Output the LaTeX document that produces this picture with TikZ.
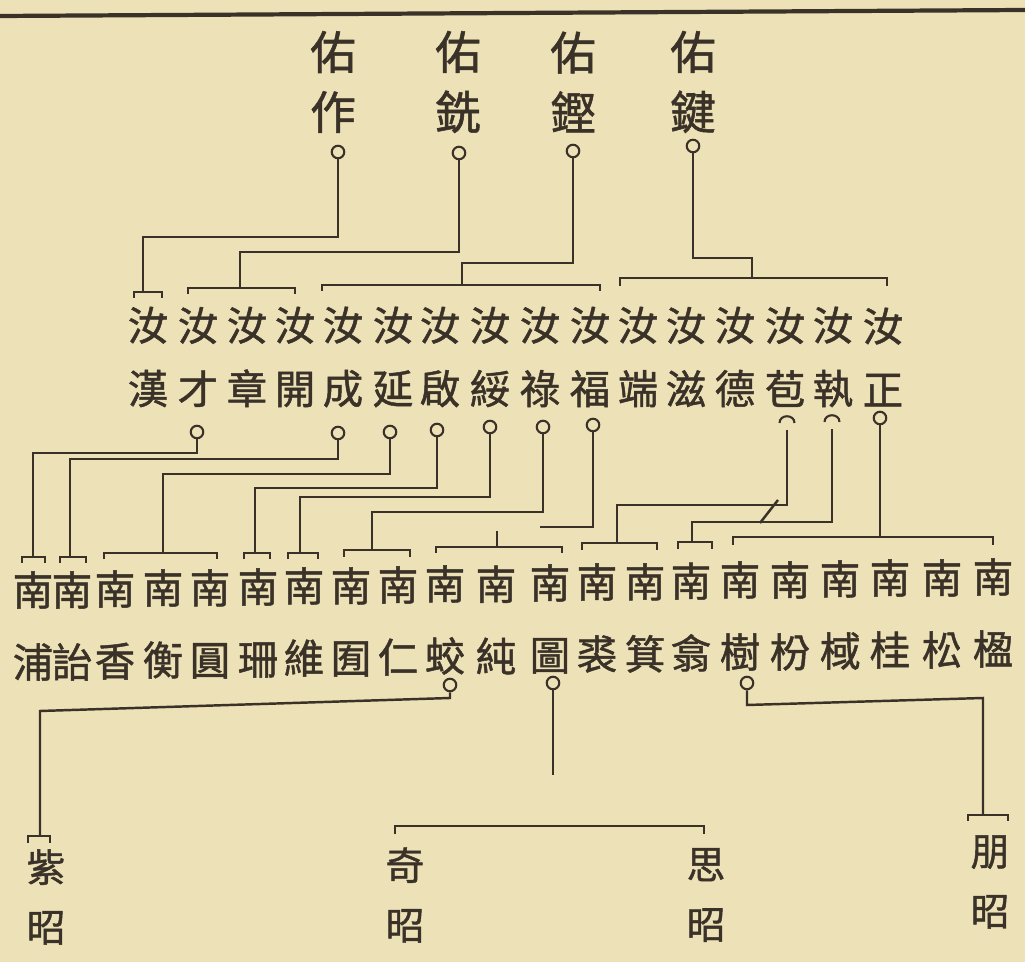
\documentclass[tikz,border=0pt]{standalone}
\usepackage{fontspec}
\newfontfamily\cjk{Noto Sans CJK TC}[FakeBold=1.2]
\definecolor{paper}{RGB}{237,225,183}
\definecolor{ink}{RGB}{58,50,40}
\begin{document}
\begin{tikzpicture}[x=0.02cm,y=-0.02cm,color=ink,line width=1.4pt,
  every node/.style={text=ink,align=center,inner sep=0pt},
  gen1/.style={font=\cjk\fontsize{26}{34.1}\selectfont},
  gen2/.style={font=\cjk\fontsize{23}{36}\selectfont},
  gen3/.style={font=\cjk\fontsize{23}{41}\selectfont},
  gen4/.style={font=\cjk\fontsize{22}{34.1}\selectfont},
  ring/.style={circle,draw=ink,line width=1.2pt,minimum size=0.25cm},
  halfring/.style={circle,minimum size=0.25cm}]
\fill[paper] (0,0) rectangle (1025,962);
\useasboundingbox (0,0) rectangle (1025,962);
\draw[line width=2.4pt] (0,16) -- (1025,10);
% Generation 1
\node[gen1] (zuo) at (333,82) {佑\\作};
\node[gen1] (xian) at (458,82) {佑\\銑};
\node[gen1] (keng) at (573,82) {佑\\鏗};
\node[gen1] (jian) at (693,82) {佑\\鍵};
\node[ring] (oZuo) at (338,152) {};
\node[ring] (oXian) at (459,153) {};
\node[ring] (oKeng) at (573,151) {};
\node[ring] (oJian) at (693,146) {};
% Generation 2
\node[gen2] (han) at (148,357) {汝\\漢};
\node[gen2] (cai) at (198,357) {汝\\才};
\node[gen2] (zhang) at (247,357) {汝\\章};
\node[gen2] (kai) at (295,357) {汝\\開};
\node[gen2] (cheng) at (343,357) {汝\\成};
\node[gen2] (yan) at (393,357) {汝\\延};
\node[gen2] (qi) at (440,357) {汝\\啟};
\node[gen2] (sui) at (490,357) {汝\\綏};
\node[gen2] (lu) at (540,357) {汝\\祿};
\node[gen2] (fu) at (590,357) {汝\\福};
\node[gen2] (duan) at (638,357) {汝\\端};
\node[gen2] (zi) at (686,357) {汝\\滋};
\node[gen2] (de) at (735,357) {汝\\德};
\node[gen2] (bao) at (785,357) {汝\\苞};
\node[gen2] (zhi) at (833,357) {汝\\執};
\node[gen2] (zheng) at (883,357) {汝\\正};
\node[ring] (oCai) at (197,432) {};
\node[ring] (oCheng) at (338,433) {};
\node[ring] (oYan) at (390,432) {};
\node[ring] (oQi) at (437,430) {};
\node[ring] (oSui) at (490,427) {};
\node[ring] (oLu) at (543,427) {};
\node[ring] (oFu) at (593,425) {};
\node[halfring] (oBao) at (787,423) {};
\node[halfring] (oZhi) at (832,422) {};
\node[ring] (oZheng) at (880,418) {};
\draw[line width=1.2pt] (oBao.west) .. controls +(0,-9) and +(0,-9) .. (oBao.east);
\draw[line width=1.2pt] (oZhi.west) .. controls +(0,-9) and +(0,-9) .. (oZhi.east);
% Generation 3
\node[gen3] (pu) at (33,626) {南\\浦};
\node[gen3] (yi) at (72,626) {南\\詒};
\node[gen3] (xiang) at (115,625) {南\\香};
\node[gen3] (heng) at (163,624) {南\\衡};
\node[gen3] (yuan) at (210,624) {南\\圓};
\node[gen3] (shan) at (258,623) {南\\珊};
\node[gen3] (wei) at (304,622) {南\\維};
\node[gen3] (you) at (351,622) {南\\囿};
\node[gen3] (ren) at (398,621) {南\\仁};
\node[gen3] (jiao) at (445,620) {南\\蛟};
\node[gen3] (chun) at (496,620) {南\\純};
\node[gen3] (tu) at (550,619) {南\\圖};
\node[gen3] (qiu) at (597,618) {南\\裘};
\node[gen3] (ji) at (645,618) {南\\箕};
\node[gen3] (xi) at (691,617) {南\\翕};
\node[gen3] (shu) at (740,616) {南\\樹};
\node[gen3] (fen) at (790,616) {南\\枌};
\node[gen3] (yu) at (840,615) {南\\棫};
\node[gen3] (gui) at (890,614) {南\\桂};
\node[gen3] (song) at (942,614) {南\\松};
\node[gen3] (ying) at (993,613) {南\\楹};
\node[ring] (oJiao) at (450,685) {};
\node[ring] (oTu) at (553,683) {};
\node[ring] (oShu) at (747,683) {};
% Generation 4
\node[gen4] (zi4) at (46,897) {紫\\昭};
\node[gen4] (qi4) at (405,895) {奇\\昭};
\node[gen4] (si4) at (706,895) {思\\昭};
\node[gen4] (peng4) at (990,882) {朋\\昭};
% stems where lines meet the brackets
\coordinate (sZuo) at (143,292);
\coordinate (sXian) at (240,288);
\coordinate (sKeng) at (462,285);
\coordinate (sJian) at (752,278);
\coordinate (sCai) at (33,557);
\coordinate (sCheng) at (70,557);
\coordinate (sYan) at (163,553);
\coordinate (sQi) at (255,553);
\coordinate (sSui) at (300,553);
\coordinate (sLu) at (372,550);
\coordinate (eFu) at (540,527);
\coordinate (sFu) at (497,531);
\coordinate (sBao) at (617,543);
\coordinate (sZhi) at (692,542);
\coordinate (sZheng) at (880,537);
\coordinate (sJiao) at (40,836);
\coordinate (eTu) at (553,775);
\coordinate (sShu) at (983,815);
% Gen 1 -> Gen 2
\draw (oZuo.south) |- (143,237) -- (sZuo);
\draw (134,298) |- (162,292) -- (162,298);
\draw (oXian.south) |- (240,252) -- (sXian);
\draw (188,294) |- (295,288) -- (295,294);
\draw (oKeng.south) |- (462,263) -- (sKeng);
\draw (322,291) |- (600,285) -- (600,291);
\draw (oJian.south) |- (752,258) -- (sJian);
\draw (620,286) |- (887,278) -- (887,286);
% Gen 2 -> Gen 3
\draw (oCai.south) |- (33,453) -- (sCai);
\draw (22,563) |- (45,557) -- (45,563);
\draw (oCheng.south) |- (70,459) -- (sCheng);
\draw (60,563) |- (86,557) -- (86,563);
\draw (oYan.south) |- (163,474) -- (sYan);
\draw (104,559) |- (217,553) -- (217,559);
\draw (oQi.south) |- (255,488) -- (sQi);
\draw (244,559) |- (270,553) -- (270,559);
\draw (oSui.south) |- (300,497) -- (sSui);
\draw (288,559) |- (318,553) -- (318,559);
\draw (oLu.south) |- (372,512) -- (sLu);
\draw (344,557) |- (410,550) -- (410,557);
\draw (oFu.south) |- (eFu);
\draw (sFu) -- (497,547);
\draw (436,553) |- (562,547) -- (562,553);
\draw (oBao.south) |- (617,505) -- (sBao);
\draw (778,500) -- (760,523);
\draw (582,550) |- (657,543) -- (657,550);
\draw (oZhi.south) |- (692,522) -- (sZhi);
\draw (678,549) |- (712,542) -- (712,549);
\draw (oZheng.south) -- (sZheng);
\draw (733,545) |- (993,537) -- (993,545);
% Gen 3 -> Gen 4
\draw (oJiao.south) -- (450,698) -- (40,711) -- (sJiao);
\draw (28,843) |- (50,836) -- (50,843);
\draw (oTu.south) -- (eTu);
\draw (395,834) |- (704,826) -- (704,834);
\draw (oShu.south) -- (747,705) -- (983,698) -- (sShu);
\draw (968,821) |- (1008,815) -- (1008,821);
\end{tikzpicture}
\end{document}
